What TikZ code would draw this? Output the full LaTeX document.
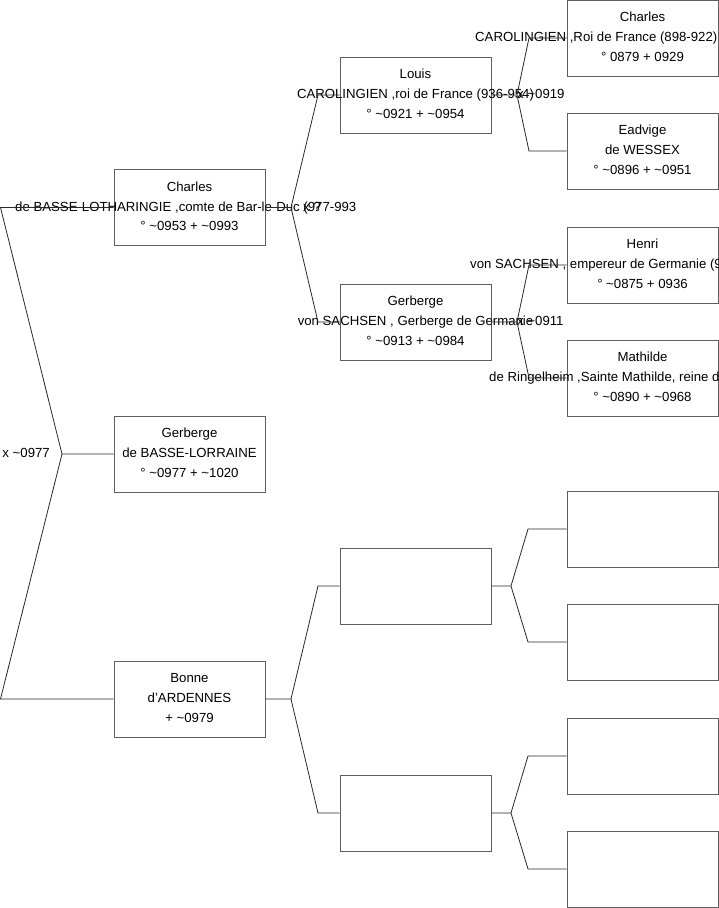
\documentclass[tikz,border=0pt]{standalone}
\usepackage{fontspec}
\setmainfont{Liberation Sans}
\definecolor{boxgray}{RGB}{95,95,95}
\definecolor{linegray}{RGB}{40,40,40}
\newcommand\tl{\textasciitilde}
\begin{document}
\begin{tikzpicture}[x=1pt,y=-1pt,
  pbox/.style={draw=boxgray,line width=0.8pt,minimum width=151pt,minimum height=76pt,inner sep=0pt},
  ptxt/.style={anchor=base,inner sep=0pt,font=\fontsize{13.2}{15}\selectfont},
  conn/.style={draw=linegray,line width=0.8pt}]
\useasboundingbox (0,0) rectangle (719,908);
\clip (0,0) rectangle (719,908);
\newcommand\famperson[6]{%
  \node[pbox] (#1) at (#2,#3) {};
  \node[ptxt] at (#2,#3-16.5) {#4};
  \node[ptxt] at (#2,#3+3.5) {#5};
  \node[ptxt] at (#2,#3+23) {#6};
}
% generation 1
\famperson{c1}{189.5}{207.5}{Charles}{}{° \tl0953 + \tl0993}
\node[ptxt,anchor=base west] (c1t) at (15,211) {de BASSE-LOTHARINGIE ,comte de Bar-le-Duc (977-993};
\famperson{g1}{189.5}{454}{Gerberge}{de BASSE-LORRAINE}{° \tl0977 + \tl1020}
\famperson{b1}{189.5}{699}{Bonne}{d'ARDENNES}{+ \tl0979}
% generation 2
\famperson{l2}{415.5}{95}{Louis}{CAROLINGIEN ,roi de France (936-954)}{° \tl0921 + \tl0954}
\famperson{g2}{415.5}{322}{Gerberge}{von SACHSEN , Gerberge de Germanie}{° \tl0913 + \tl0984}
\node[pbox] (e2a) at (415.5,586) {};
\node[pbox] (e2b) at (415.5,813) {};
% generation 3
\famperson{c3}{642.5}{38}{Charles}{}{° 0879 + 0929}
\node[ptxt,anchor=base west] (c3t) at (475,41.5) {CAROLINGIEN ,Roi de France (898-922)};
\famperson{e3}{642.5}{151}{Eadvige}{de WESSEX}{° \tl0896 + \tl0951}
\famperson{h3}{642.5}{265}{Henri}{}{° \tl0875 + 0936}
\node[ptxt,anchor=base west] (h3t) at (470,268.5) {von SACHSEN , empereur de Germanie (919-936)};
\famperson{m3}{642.5}{378}{Mathilde}{}{° \tl0890 + \tl0968}
\node[ptxt,anchor=base west] (m3t) at (489,381.5) {de Ringelheim ,Sainte Mathilde, reine de Germanie};
\node[pbox] (x3a) at (642.5,529) {};
\node[pbox] (x3b) at (642.5,642) {};
\node[pbox] (x3c) at (642.5,756) {};
\node[pbox] (x3d) at (642.5,869) {};
% marriage labels
\node[ptxt,anchor=base east] (mk0) at (50,457.5) {x \tl0977};
\node[ptxt,anchor=base west] (mk1) at (303,211) {x ?};
\node[ptxt,anchor=base west] (mk2) at (517,98.5) {x \tl0919};
\node[ptxt,anchor=base west] (mk3) at (517,325.5) {x \tl0911};
% fork coordinates
\coordinate (f0) at (62,454);
\coordinate (f0a) at (0.5,207.5);
\coordinate (f0b) at (0.5,699);
\coordinate (f1) at (291,207.5);
\coordinate (f1a) at (318,95);
\coordinate (f1b) at (318,322);
\coordinate (f2) at (517,95);
\coordinate (f2a) at (529,38);
\coordinate (f2b) at (529,151);
\coordinate (f3) at (517,322);
\coordinate (f3a) at (529,265);
\coordinate (f3b) at (529,378);
\coordinate (f4) at (291,699);
\coordinate (f4a) at (318,586);
\coordinate (f4b) at (318,813);
\coordinate (f5) at (511,586);
\coordinate (f5a) at (528,529);
\coordinate (f5b) at (528,642);
\coordinate (f6) at (511,813);
\coordinate (f6a) at (528,756);
\coordinate (f6b) at (528,869);
% connectors
\draw[conn] (g1.west) -- (f0) -- (f0a) -- (c1.west);
\draw[conn] (f0) -- (f0b) -- (b1.west);
\draw[conn] (c1.east) -- (f1) -- (f1a) -- (l2.west);
\draw[conn] (f1) -- (f1b) -- (g2.west);
\draw[conn] (b1.east) -- (f4) -- (f4a) -- (e2a.west);
\draw[conn] (f4) -- (f4b) -- (e2b.west);
\draw[conn] (l2.east) -- (f2) -- (f2a) -- (c3.west);
\draw[conn] (f2) -- (f2b) -- (e3.west);
\draw[conn] (g2.east) -- (f3) -- (f3a) -- (h3.west);
\draw[conn] (f3) -- (f3b) -- (m3.west);
\draw[conn] (e2a.east) -- (f5) -- (f5a) -- (x3a.west);
\draw[conn] (f5) -- (f5b) -- (x3b.west);
\draw[conn] (e2b.east) -- (f6) -- (f6a) -- (x3c.west);
\draw[conn] (f6) -- (f6b) -- (x3d.west);
\end{tikzpicture}
\end{document}
